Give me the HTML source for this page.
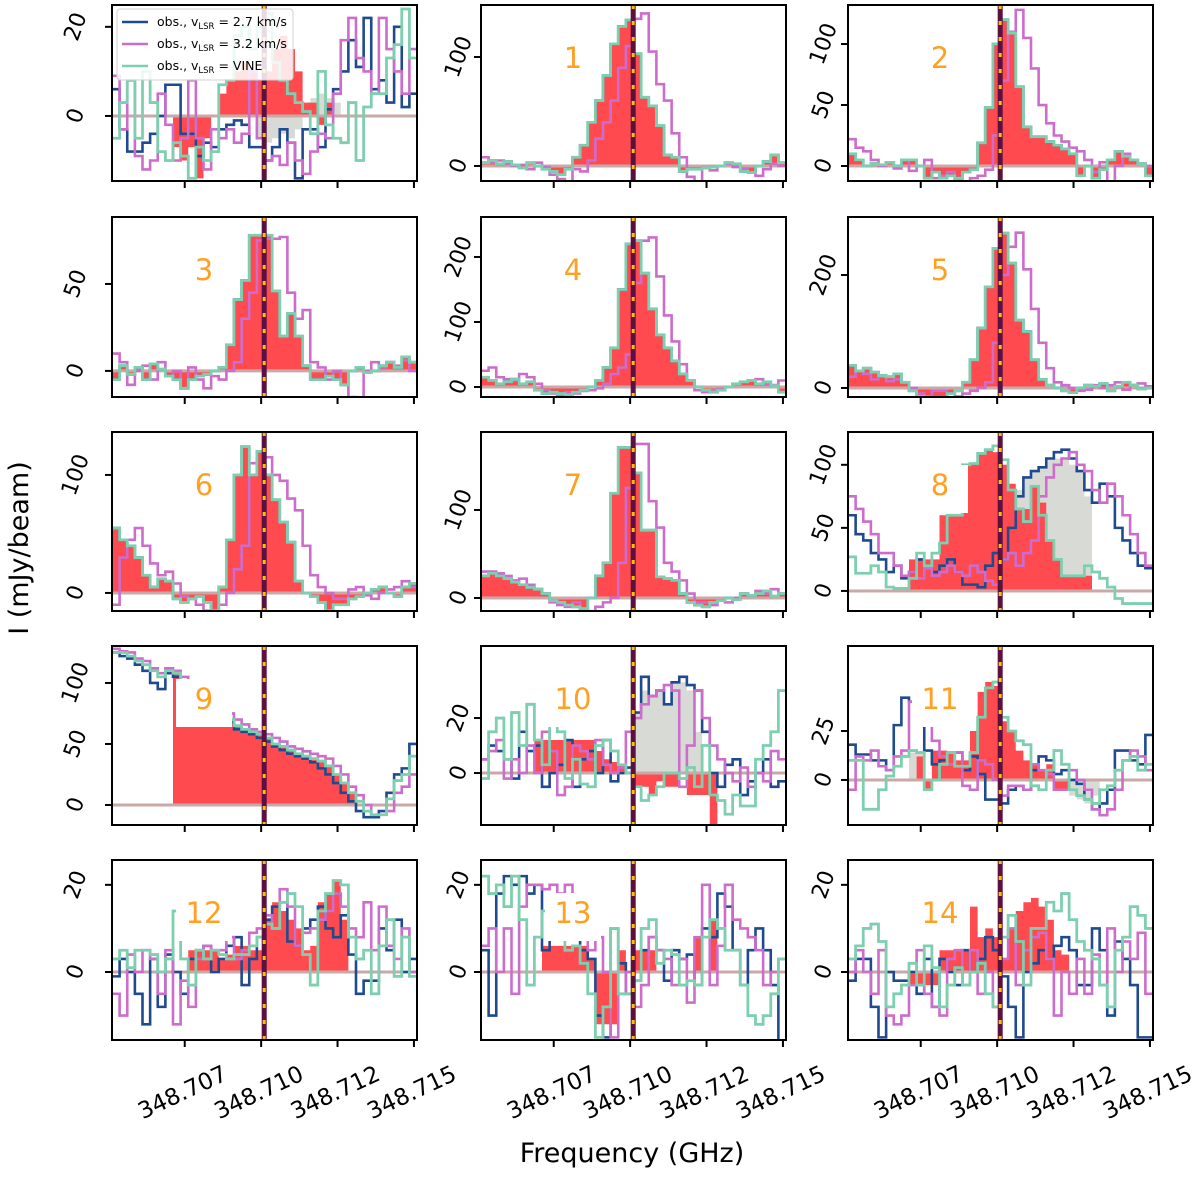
<!DOCTYPE html>
<html><head><meta charset="utf-8"><style>
html,body{margin:0;padding:0;background:#fff;}
svg text{font-family:"DejaVu Sans","Liberation Sans",sans-serif;}
</style></head><body>
<svg id="fig" width="1200" height="1173" viewBox="0 0 1200 1173" xmlns="http://www.w3.org/2000/svg">
<text x="632" y="1162" font-size="27" text-anchor="middle">Frequency (GHz)</text>
<text x="0" y="0" font-size="27" text-anchor="middle" transform="translate(28,548) rotate(-90)">I (mJy/beam)</text>
</svg>
<script>
const f0 = 348.70512, f1 = 348.7151, N = 40;
const lineFreq = 348.7101;
const xTickVals = [348.7075, 348.7100, 348.7125, 348.7150];
const xTickLabels = ["348.707", "348.710", "348.712", "348.715"];
const panelLabels = ["", "1","2","3","4","5","6","7","8","9","10","11","12","13","14"];
const yMin = [-14.6,-13.8,-12.3,-15,-15.4,-16,-15.3,-14.8,-15.9,-16.4,-18.9,-23,-15.6,-15.6,-15.6];
const yMax = [24.9,147.7,132,88.5,261.5,302.7,136.4,188.6,126,130.3,46.2,68.4,25.7,25.7,25.7];
const yTicks = [[0,20],[0,100],[0,50,100],[0,50],[0,100,200],[0,200],[0,100],[0,100],[0,50,100],[0,50,100],[0,20],[0,25],[0,20],[0,20],[0,20]];

const b0=[6,-3,-8,-8,-6,-4,0,7,7,-4,-4,-9,-6,-7,-3,-2,-1,-2,-7,-7,-10,-7,-3,-6,-14,-3,-3,-7,1.5,6,10,17,11,22,6,8,3,20,2,5];
const m0=[9,-3,8,-9,-12,-10,5,-2,-10,-5,8,-5,-12,-3,-5,-3,-6,-4,10,-5,-10,-9,-11,-6,-10,-13,-8,-4,-5,5,17,22,13,10,5,22,15,10,5,15];
const g0=[-5,3,8,-5,10,3,-8,-10,-6,-9,-14,-7,-10,-8,7,8,18,20,15,20,23,12,8,5,3,1,-4,10,-2,-5,-6,3,-10,2,5,5,13,16,24,13];
const r0=[0,0,0,0,0,0,0,0,-7,-10,-7,-14,-5,0,5,8,10,12,10,8,10,15,18,15,10,3,3,-2,3,0,0,0,0,0,0,0,0,0,0,0];
const k0=[0,0,0,0,0,0,0,0,0,0,0,0,0,0,0,0,0,0,0,-5,-6,-5,-4,-5,-3,3,4,5,4,3,0,0,0,0,0,0,0,0,0,0];

const g1=[3,5,2,4,1,-2,3,0,-3,-5,-8,-3,8,19,40,60,83,112,128,134,103,63,55,37,10,8,-5,-3,-3,-2,-1,0,3,2,-5,-6,0,4,10,3];
const m1=[8,3,5,2,0,1,-3,3,-1,-8,-12,-15,-3,-5,5,25,40,60,90,110,135,140,105,75,60,30,8,-10,-15,-2,-4,0,2,-1,-3,-6,-9,-3,2,0];
const g2=[10,5,0,2,1,3,0,5,5,0,-10,-5,-10,-8,-10,-5,-3,19,48,100,120,109,65,32,24,24,20,17,14,10,-8,0,-10,-3,5,12,8,5,2,-8];
const m2=[22,15,12,5,0,3,-2,5,-4,0,5,-10,-8,-5,-12,-15,-10,-8,-3,25,70,110,128,105,80,50,35,25,20,15,12,5,-5,3,-15,0,10,5,2,0];
const g3=[-5,3,-2,2,-5,4,1,-3,-5,-10,-5,-3,-2,0,2,15,41,52,78,78,78,46,20,33,20,3,-5,-5,-3,-5,-8,0,2,-1,0,3,5,2,8,5];
const m3=[10,5,-8,0,3,-5,5,-3,0,-10,2,-5,-10,-3,-5,0,5,30,45,75,76,76,77,45,30,35,5,2,-5,0,-8,-15,-18,0,5,2,5,3,6,0];
const g4=[15,10,5,8,12,5,8,-5,-10,-8,-10,-12,-8,-5,0,10,30,60,150,220,225,175,120,80,60,40,20,10,0,-5,-8,-5,0,5,8,10,5,8,2,-8];
const m4=[25,30,15,12,10,20,15,5,-5,-10,-12,-8,-10,-6,-5,-2,5,20,30,50,160,225,230,170,110,70,35,10,-5,-8,-5,-3,0,5,8,10,12,5,3,10];
const g5=[40,30,35,28,22,20,25,10,-5,-15,-20,-22,-18,-10,-5,10,50,106,179,247,274,221,120,100,50,15,5,0,-5,-8,0,5,3,8,-5,3,10,5,-2,0];
const m5=[20,30,25,15,20,12,15,10,0,-10,-15,-5,-5,-10,-15,-10,-5,0,10,80,200,250,275,210,140,80,35,10,5,0,-5,-3,5,0,5,10,-3,5,8,3];
const g6=[55,45,40,30,15,5,12,10,-5,-8,-5,-3,-8,-15,5,45,100,124,100,120,100,79,60,43,10,0,-3,-8,-15,-10,-10,-5,-3,0,3,5,0,-3,5,8];
const m6=[-10,30,45,55,40,25,15,18,8,-3,-5,-10,-15,-18,-10,0,20,40,110,120,115,100,95,80,70,40,15,5,0,-5,-5,3,5,-2,-5,0,3,5,10,5];
const g7=[25,28,25,22,18,15,12,10,5,-3,-5,-8,-10,-12,0,25,40,119,171,171,142,77,77,24,22,20,5,-5,-8,-10,-5,-3,0,-2,5,3,5,8,2,5];
const m7=[30,30,28,25,20,22,15,10,5,-5,-8,-10,-5,-12,-15,-10,-5,0,40,125,175,175,110,80,40,30,20,5,-5,-5,-8,-3,-5,0,5,3,8,5,10,5];

const b8=[60,45,40,30,25,15,20,10,15,25,18,15,20,25,15,5,5,3,20,30,25,50,75,90,95,98,105,110,112,105,95,80,70,85,75,50,40,30,20,18];
const m8=[75,65,55,45,30,30,20,12,15,10,18,12,15,20,15,12,20,15,8,5,25,30,20,30,40,75,90,100,105,110,100,95,80,70,85,75,60,45,30,20];
const g8=[27,14,14,20,15,3,2,2,10,30,20,30,38,60,60,100,101,109,112,115,104,80,65,55,83,60,40,25,12,12,12,20,15,10,3,-6,-10,-10,-10,-10];
const r8=[0,0,0,0,0,0,0,0,25,25,25,25,60,60,60,100,101,109,112,110,100,85,65,65,83,70,40,25,12,12,12,12,0,0,0,0,0,0,0,0];
const k8=[0,0,0,0,0,0,0,0,0,0,0,0,0,0,0,0,0,0,0,0,0,0,80,90,95,98,105,105,105,100,95,75,0,0,0,0,0,0,0,0];

const b9=[125,122,120,115,110,100,95,108,105,98,92,88,82,78,72,68,62,60,58,55,52,48,45,42,40,38,35,30,25,18,10,3,-5,-10,-10,-5,10,25,30,50];
const m9=[128,126,125,120,118,112,108,112,110,105,100,95,90,85,80,75,70,66,62,60,58,55,52,48,46,44,42,40,38,32,25,15,8,0,-8,-8,-5,10,15,25];
const g9=[125,125,122,118,115,110,105,110,108,100,95,90,85,80,75,70,65,62,60,58,55,50,48,45,42,40,38,36,32,25,18,10,3,-5,-8,-8,5,20,25,40];
const r9=[0,0,0,0,0,0,0,0,108,100,95,90,85,80,75,70,65,62,60,58,55,50,48,45,42,40,38,36,32,25,18,10,0,0,0,0,0,0,0,0];
const k9=[0,0,0,0,0,0,0,0,0,0,0,0,0,0,0,0,0,0,0,0,0,0,0,0,0,0,0,0,0,0,0,0,0,0,0,0,0,0,0,0];

const b10=[5,10,8,5,-2,15,8,10,-5,0,3,12,-5,5,8,0,12,-3,0,2,22,35,28,30,25,33,35,32,30,15,0,-5,3,5,-8,-3,0,5,-5,-3];
const m10=[5,8,12,-2,5,0,10,0,15,8,-8,-5,10,8,5,12,3,0,2,15,20,25,28,30,32,30,-5,10,30,20,10,5,0,-3,2,-5,0,-3,8,5];
const g10=[-2,15,20,5,22,10,25,12,3,20,15,-2,5,-4,-5,10,12,8,3,0,-5,-10,-8,-5,0,0,-2,2,-5,10,-8,-10,-15,-8,-12,-12,5,10,15,30];
const r10=[0,0,0,0,0,0,0,12,12,12,12,12,12,12,12,8,5,4,3,0,-5,-5,-8,-3,-5,-5,0,-8,-8,-8,-20,0,0,0,0,0,0,0,0,0];
const k10=[0,0,0,0,0,0,0,0,0,0,0,0,0,0,0,0,0,0,0,0,22,30,28,30,25,33,33,30,15,0,0,0,0,0,0,0,0,0,0,0];

const b11=[18,13,13,10,10,5,28,42,40,30,15,8,10,14,14,5,12,3,-10,-10,-12,-5,-3,-5,5,12,10,3,5,0,-2,-10,-15,-12,-5,15,15,10,8,23];
const m11=[-5,12,10,15,7,5,12,15,40,42,35,20,12,8,14,-3,-5,10,8,0,-8,-3,-3,-5,8,5,3,-5,-5,5,0,-5,-15,-18,-15,-5,10,15,12,5];
const g11=[10,10,-15,-15,-5,2,7,12,15,14,-5,0,8,14,7,7,14,32,47,50,32,25,20,18,-3,-5,5,15,8,-5,-8,-10,-12,-5,-3,5,10,12,5,8];
const r11=[0,0,0,0,0,0,0,0,0,12,-5,15,15,14,10,10,25,45,50,48,30,25,15,10,8,5,8,-5,-5,0,0,0,0,0,0,0,0,0,0,0];
const k11=[0,0,0,0,0,0,0,0,14,14,0,0,0,0,0,0,0,0,0,0,0,0,0,0,0,0,0,0,-5,-8,-10,-12,-8,0,0,0,0,0,0,0];

const b12=[-1,3,0,-5,-12,3,-8,4,0,-5,3,5,6,0,3,6,8,-3,3,8,12,15,16,7,6,10,12,15,10,8,13,4,-5,-2,-2,10,5,12,0,3];
const m12=[-5,-10,4,0,5,3,-5,5,-12,-2,-8,3,6,5,5,8,3,5,9,10,13,10,19,15,6,9,10,12,14,18,15,10,8,16,5,15,6,3,10,0];
const g12=[3,5,1,5,5,4,0,3,14,3,-3,5,3,5,4,3,4,4,6,8,11,10,16,18,15,4,-3,14,18,21,20,8,3,5,-5,6,12,-1,8,-1];
const r12=[0,0,0,0,0,0,0,0,0,0,5,5,5,5,3,4,6,6,5,5,12,16,14,12,10,5,6,16,18,21,12,0,0,0,0,0,0,0,0,0];

const b13=[5,-10,18,22,20,22,18,20,5,15,10,15,8,5,3,-10,-15,10,2,-5,-2,5,8,5,-2,5,3,4,-3,10,8,18,15,5,-3,5,10,5,-3,-20];
const m13=[6,10,0,10,-5,15,20,20,19,20,18,20,8,12,5,8,0,-15,-5,0,-8,-3,8,5,3,-3,3,-7,8,20,-3,6,20,12,10,8,5,-3,0,3];
const g13=[22,18,20,15,22,12,-3,8,14,10,8,5,6,2,-5,-15,-8,10,-5,-5,-2,10,12,2,5,4,-3,-2,-3,8,12,10,5,5,-3,-10,-12,-10,-5,3];
const r13=[0,0,0,0,0,0,0,0,6,6,6,6,6,6,3,-12,-12,-12,5,0,5,5,5,0,0,0,0,0,8,0,12,0,0,0,0,0,0,0,0,0];

const b14=[-2,3,3,-8,-15,0,-2,-2,0,-5,3,-8,3,0,-3,5,0,3,8,5,-1,-8,-15,0,2,5,3,6,8,5,-3,-3,10,5,-10,7,3,-3,-15,-15];
const m14=[0,5,0,-5,5,-10,-12,-10,-3,5,-5,-8,-10,3,5,-3,5,-5,0,-8,3,10,-3,5,8,9,3,-10,0,-5,3,-5,4,-3,10,0,7,3,9,-5];
const g14=[3,6,10,11,7,-8,-5,-3,2,-3,6,1,-8,-3,1,-3,0,2,-5,-8,8,13,7,-3,10,10,16,14,18,12,7,5,3,-3,-8,5,8,15,13,10];
const r14=[0,0,0,0,0,0,0,0,-3,-3,-3,-3,5,5,5,5,15,8,10,8,3,10,14,16,17,15,12,5,4,0,0,0,0,0,0,0,0,0,0,0];

const zeros=new Array(N).fill(0);
const panels=[
 {b:b0,m:m0,g:g0,r:r0,k:k0},
 {b:g1,m:m1,g:g1,r:g1,k:zeros},{b:g2,m:m2,g:g2,r:g2,k:zeros},{b:g3,m:m3,g:g3,r:g3,k:zeros},
 {b:g4,m:m4,g:g4,r:g4,k:zeros},{b:g5,m:m5,g:g5,r:g5,k:zeros},{b:g6,m:m6,g:g6,r:g6,k:zeros},
 {b:g7,m:m7,g:g7,r:g7,k:zeros},{b:b8,m:m8,g:g8,r:r8,k:k8},{b:b9,m:m9,g:g9,r:r9,k:k9},
 {b:b10,m:m10,g:g10,r:r10,k:k10},{b:b11,m:m11,g:g11,r:r11,k:k11},{b:b12,m:m12,g:g12,r:r12,k:zeros},
 {b:b13,m:m13,g:g13,r:r13,k:zeros},{b:b14,m:m14,g:g14,r:r14,k:zeros}
];

const colLeft=[112,481,848], W=305;
const rowTop=[5,217,432,646,860], H=[176,180,179,179,180];
const yLabOff=[36,22,24];
const NS="http://www.w3.org/2000/svg";
const svg=document.getElementById('fig');
function mk(tag,attrs,parent){const e=document.createElementNS(NS,tag);for(const k in attrs)e.setAttribute(k,attrs[k]);(parent||svg).appendChild(e);return e;}

panels.forEach((p,i)=>{
  const col=i%3,row=Math.floor(i/3);
  const L=colLeft[col],T=rowTop[row],Hh=H[row];
  const xs=f=>L+(f-f0)/(f1-f0)*W;
  const ys=v=>T+Hh-(v-yMin[i])/(yMax[i]-yMin[i])*Hh;
  const df=(f1-f0)/N;
  const g=mk('g',{});
  
  
  const cp=mk('clipPath',{id:'cp'+i},g);
  mk('rect',{x:L,y:T,width:W,height:Hh},cp);
  const inner=mk('g',{'clip-path':'url(#cp'+i+')'},g);
  function fillPath(arr){let d='M'+xs(f0)+','+ys(0);for(let j=0;j<N;j++){d+='V'+ys(arr[j])+'H'+xs(f0+(j+1)*df);}d+='V'+ys(0)+'Z';return d;}
  function stepPath(arr){let d='M'+xs(f0)+','+ys(arr[0]);for(let j=0;j<N;j++){if(j>0)d+='V'+ys(arr[j]);d+='H'+xs(f0+(j+1)*df);}return d;}
  const gk=mk('path',{d:fillPath(p.k),fill:'#d8dbd5',stroke:'none'},inner);
  
  
  const rf=mk('path',{d:fillPath(p.r),fill:'#ff4a4f',stroke:'none'},inner);
  
  
  const zl=mk('line',{x1:L,x2:L+W,y1:ys(0),y2:ys(0),stroke:'#c9a9a7','stroke-width':3},inner);
  
  
  const bl=mk('path',{d:stepPath(p.b),fill:'none',stroke:'#1f4a8f','stroke-width':2.6},inner);
  
  
  const ml=mk('path',{d:stepPath(p.m),fill:'none',stroke:'#cc6dcc','stroke-width':2.6},inner);
  
  
  const gl=mk('path',{d:stepPath(p.g),fill:'none',stroke:'#7dcfb0','stroke-width':2.8},inner);
  
  
  const vx=xs(lineFreq);
  const v1=mk('line',{x1:vx,x2:vx,y1:T,y2:T+Hh,stroke:'#5a1040','stroke-width':5},inner);
  
  
  mk('line',{x1:vx,x2:vx,y1:T,y2:T+Hh,stroke:'#ffc000','stroke-width':3,'stroke-dasharray':'4 12'},inner);
  if(panelLabels[i]){
    const cx=L+92,cy=T+53;
    mk('rect',{x:cx-28,y:cy-20,width:56,height:48,fill:'#fff'},inner);
    const t=mk('text',{x:cx,y:cy+10,'font-size':29,fill:'#ffa023','text-anchor':'middle'},inner);
    t.textContent=panelLabels[i];
    
    
  }
  const fr=mk('rect',{x:L,y:T,width:W,height:Hh,fill:'none',stroke:'#000','stroke-width':2},g);
  
  
  yTicks[i].forEach(v=>{
    const y=ys(v);
    mk('line',{x1:L-7,x2:L,y1:y,y2:y,stroke:'#000','stroke-width':2},g);
    const cx=L-yLabOff[col];
    const t=mk('text',{x:cx,y:y,'font-size':22,'text-anchor':'middle','dominant-baseline':'central',transform:'rotate(-70 '+cx+' '+y+')'},g);
    t.textContent=String(v);
    
    
  });
  xTickVals.forEach((f,j)=>{
    const x=xs(f);
    mk('line',{x1:x,x2:x,y1:T+Hh,y2:T+Hh+7,stroke:'#000','stroke-width':2},g);
    if(row===4){
      const cy=1093,cx=x-2;
      const t=mk('text',{x:cx,y:cy,'font-size':23,'text-anchor':'middle','dominant-baseline':'central',transform:'rotate(-25 '+cx+' '+cy+')'},g);
      t.textContent=xTickLabels[j];
      
      
    }
  });
  if(i===0){
    const lg=mk('g',{},g);
    
    
    mk('rect',{x:117,y:9,width:176,height:71,rx:3,fill:'#fff','fill-opacity':0.85,stroke:'#d0d0d0','stroke-width':1},lg);
    const items=[['#1f4a8f','2.7 km/s'],['#cc6dcc','3.2 km/s'],['#7dcfb0','VINE']];
    items.forEach((it,k)=>{
      const y=22+k*22;
      mk('line',{x1:122,x2:148,y1:y,y2:y,stroke:it[0],'stroke-width':2.4},lg);
      const t=mk('text',{x:157,y:y+4,'font-size':12.5},lg);
      
      
      t.appendChild(document.createTextNode('obs., v'));
      const s=mk('tspan',{'font-size':8.5,dy:3},t);s.textContent='LSR';
      const s2=mk('tspan',{dy:-3},t);s2.textContent=' = '+it[1];
    });
  }
});
</script>
</body></html>
